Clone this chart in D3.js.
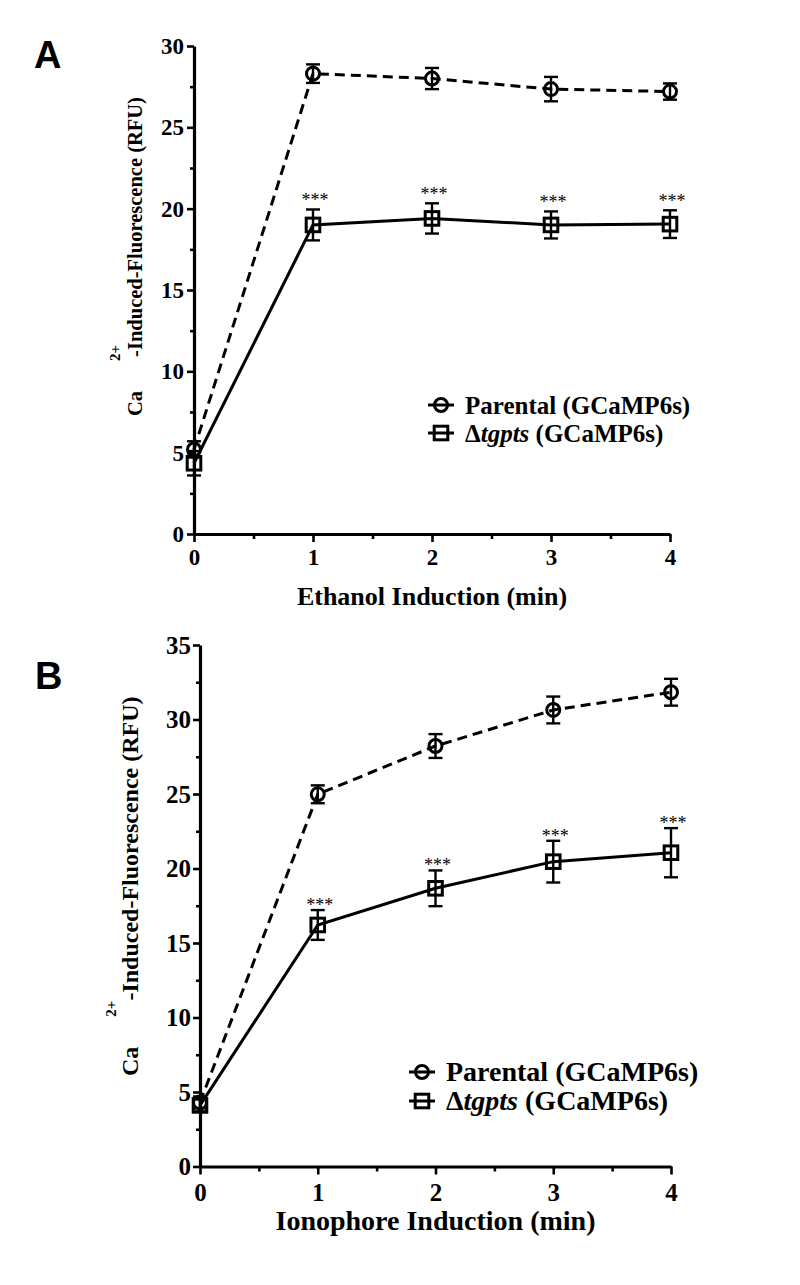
<!DOCTYPE html>
<html>
<head>
<meta charset="utf-8">
<script src="https://cdn.jsdelivr.net/npm/d3@7"></script>
<style>
  html, body { margin: 0; padding: 0; background: #fff; }
  svg { display: block; }
</style>
</head>
<body>
<svg id="chart" width="800" height="1285"></svg>
<script>
// ---------------- data ----------------
const minutes = [0, 1, 2, 3, 4];
const sigMarks = ["", "***", "***", "***", "***"];
const seriesNames = ["Parental (GCaMP6s)", "tgpts (GCaMP6s)"];

// Panel A: Ethanol induction
const ethParentalMean = [5.2, 28.3, 28.0, 27.35, 27.2];
const ethParentalErr  = [0.5, 0.57, 0.65, 0.75, 0.5];
const ethMutantMean   = [4.35, 19.0, 19.4, 19.0, 19.05];
const ethMutantErr    = [0.75, 0.95, 0.93, 0.83, 0.85];
const ethYTicks = [0, 5, 10, 15, 20, 25, 30];
const ethYMinor = [2.5, 7.5, 12.5, 17.5, 22.5, 27.5];

// Panel B: Ionophore induction
const ionParentalMean = [4.3, 24.98, 28.22, 30.64, 31.83];
const ionParentalErr  = [0.4, 0.6, 0.8, 0.9, 0.9];
const ionMutantMean   = [4.1, 16.21, 18.67, 20.46, 21.06];
const ionMutantErr    = [0.4, 1.0, 1.2, 1.4, 1.65];
const ionYTicks = [0, 5, 10, 15, 20, 25, 30, 35];
const ionYMinor = [2.5, 7.5, 12.5, 17.5, 22.5, 27.5, 32.5];

const xTicks = [0, 1, 2, 3, 4];
const xMinor = [0.5, 1.5, 2.5, 3.5];

// ---------------- drawing ----------------
const svg = d3.select("#chart");
const SERIF = "'Liberation Serif', 'Times New Roman', serif";

function drawPanel(cfg) {
  const g = svg.append("g");
  const x = d3.scaleLinear().domain([0, 4]).range([cfg.x0, cfg.x1]);
  const y = d3.scaleLinear().domain([0, cfg.yMax]).range([cfg.y0, cfg.y1]);

  // panel letter
  g.append("text").attr("x", cfg.letterX).attr("y", cfg.letterY)
    .attr("font-family", "'Liberation Sans', Arial, sans-serif")
    .attr("font-weight", "bold").attr("font-size", 38).text(cfg.letter);

  // y axis
  g.append("g").attr("transform", `translate(${cfg.x0},0)`)
    .call(d3.axisLeft(y).tickValues(cfg.yTicks).tickSize(7).tickSizeOuter(0).tickPadding(cfg.yPad).tickFormat(d3.format("d")));
  g.append("g").attr("transform", `translate(${cfg.x0},0)`)
    .call(d3.axisLeft(y).tickValues(cfg.yMinor).tickSize(4).tickSizeOuter(0).tickFormat(""))
    .select(".domain").remove();
  // x axis
  g.append("g").attr("transform", `translate(0,${cfg.y0})`)
    .call(d3.axisBottom(x).tickValues(xTicks).tickSize(8).tickSizeOuter(0).tickPadding(cfg.xPad).tickFormat(d3.format("d")));
  g.append("g").attr("transform", `translate(0,${cfg.y0})`)
    .call(d3.axisBottom(x).tickValues(xMinor).tickSize(5).tickSizeOuter(0).tickFormat(""))
    .select(".domain").remove();

  g.selectAll(".domain").attr("stroke", "#000").attr("stroke-width", 3.2);
  g.selectAll(".tick line").attr("stroke", "#000").attr("stroke-width", 2.6);
  g.selectAll(".tick text").attr("font-family", SERIF).attr("font-weight", "bold")
    .attr("font-size", cfg.tickFont).attr("fill", "#000");

  // axis titles
  g.append("text").attr("x", (cfg.x0 + cfg.x1) / 2).attr("y", cfg.xTitleY)
    .attr("text-anchor", "middle").attr("font-family", SERIF).attr("font-weight", "bold")
    .attr("font-size", cfg.titleFont).text(cfg.xTitle);

  const yt = g.append("text").attr("transform", `translate(${cfg.yTitleX},0) rotate(-90)`)
    .attr("font-family", SERIF).attr("font-weight", "bold").attr("font-size", cfg.yTitleFont);
  yt.append("tspan").attr("x", -cfg.yTitleStart).attr("y", 0).text("Ca");
  yt.append("tspan").attr("dx", cfg.supGap).attr("dy", -cfg.supRise).attr("font-size", 15).text("2+");
  yt.append("tspan").attr("dx", cfg.restGap).attr("dy", cfg.supRise).text("-Induced-Fluorescence (RFU)");

  const series = [
    { mean: cfg.pMean, err: cfg.pErr, dash: "10,6", shape: "circle" },
    { mean: cfg.mMean, err: cfg.mErr, dash: null, shape: "square" }
  ];
  const line = d3.line().x(d => x(d[0])).y(d => y(d[1]));

  series.forEach(s => {
    const pts = minutes.map((m, i) => [m, s.mean[i], s.err[i]]);
    g.append("path").datum(pts).attr("d", line).attr("fill", "none")
      .attr("stroke", "#000").attr("stroke-width", 3)
      .attr("stroke-dasharray", s.dash);
    const eb = g.append("g");
    pts.forEach(p => {
      const xx = x(p[0]), yt2 = y(p[1] + p[2]), yb = y(p[1] - p[2]);
      eb.append("line").attr("x1", xx).attr("x2", xx).attr("y1", yt2).attr("y2", yb)
        .attr("stroke", "#000").attr("stroke-width", 2.4);
      [yt2, yb].forEach(yy => eb.append("line").attr("x1", xx - 7).attr("x2", xx + 7)
        .attr("y1", yy).attr("y2", yy).attr("stroke", "#000").attr("stroke-width", 2.4));
    });
    pts.forEach(p => {
      if (s.shape === "circle") {
        g.append("circle").attr("cx", x(p[0])).attr("cy", y(p[1])).attr("r", 6.5)
          .attr("fill", "none").attr("stroke", "#000").attr("stroke-width", 3);
      } else {
        g.append("rect").attr("x", x(p[0]) - 6.8).attr("y", y(p[1]) - 6.8)
          .attr("width", 13.6).attr("height", 13.6)
          .attr("fill", "none").attr("stroke", "#000").attr("stroke-width", 3);
      }
    });
  });

  // significance stars above mutant upper error bar
  minutes.forEach((m, i) => {
    if (!sigMarks[i]) return;
    g.append("text").attr("x", x(m) + 2).attr("y", y(cfg.mMean[i] + cfg.mErr[i]) - cfg.starGap + 9)
      .attr("text-anchor", "middle").attr("font-family", SERIF)
      .attr("font-size", 18).attr("fill", "#000").text(sigMarks[i]);
  });

  // legend
  const lg = g.append("g");
  [0, 1].forEach(k => {
    const cy = cfg.legY + k * cfg.legStep;
    lg.append("line").attr("x1", cfg.legX - 13).attr("x2", cfg.legX + 13)
      .attr("y1", cy).attr("y2", cy).attr("stroke", "#000").attr("stroke-width", 3);
    if (k === 0) {
      lg.append("circle").attr("cx", cfg.legX).attr("cy", cy).attr("r", 6.5)
        .attr("fill", "none").attr("stroke", "#000").attr("stroke-width", 3);
    } else {
      lg.append("rect").attr("x", cfg.legX - 6.8).attr("y", cy - 6.8).attr("width", 13.6).attr("height", 13.6)
        .attr("fill", "none").attr("stroke", "#000").attr("stroke-width", 3);
    }
    const t = lg.append("text").attr("x", cfg.legTextX).attr("y", cy + 8.5)
      .attr("font-family", SERIF).attr("font-weight", "bold").attr("font-size", cfg.legFont);
    if (k === 0) {
      t.text(seriesNames[0]);
    } else {
      t.append("tspan").text("\u0394");
      const parts = seriesNames[1].split(" ");
      t.append("tspan").attr("font-style", "italic").text(parts[0]);
      t.append("tspan").text(" " + parts.slice(1).join(" "));
    }
  });
}

drawPanel({
  letter: "A", letterX: 34, letterY: 68,
  x0: 194, x1: 670, y0: 534, y1: 46, yMax: 30,
  yTicks: ethYTicks, yMinor: ethYMinor,
  pMean: ethParentalMean, pErr: ethParentalErr, mMean: ethMutantMean, mErr: ethMutantErr,
  tickFont: 23, yPad: 3, titleFont: 26, xPad: 7, xTitleY: 605, xTitle: "Ethanol Induction (min)",
  yTitleX: 142, yTitleFont: 20.5, yTitleStart: 416, supGap: 30, supRise: 22, restGap: -12,
  starGap: 12,
  legX: 441, legTextX: 465, legY: 405, legStep: 28, legFont: 25
});

drawPanel({
  letter: "B", letterX: 35, letterY: 689,
  x0: 200, x1: 671, y0: 1166.5, y1: 645, yMax: 35,
  yTicks: ionYTicks, yMinor: ionYMinor,
  pMean: ionParentalMean, pErr: ionParentalErr, mMean: ionMutantMean, mErr: ionMutantErr,
  tickFont: 25, yPad: 2, titleFont: 28, xPad: 9, xTitleY: 1230, xTitle: "Ionophore Induction (min)",
  yTitleX: 138, yTitleFont: 24, yTitleStart: 1076, supGap: 30, supRise: 22, restGap: 0,
  starGap: 8,
  legX: 422, legTextX: 446, legY: 1072, legStep: 29, legFont: 28
});
</script>
</body>
</html>
